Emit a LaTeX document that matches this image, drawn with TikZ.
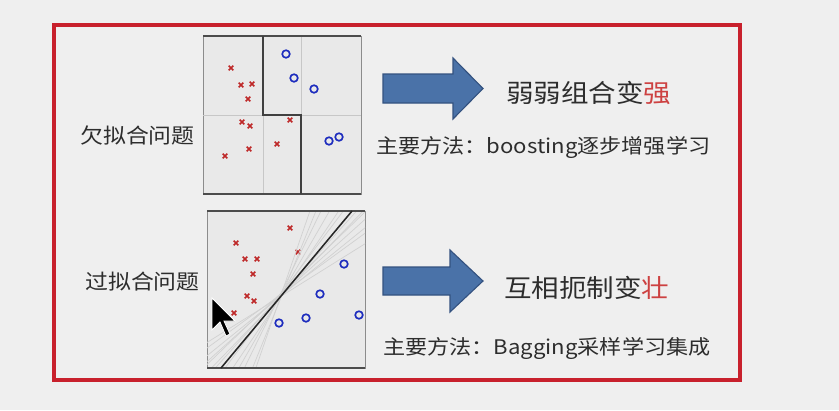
\documentclass[tikz,border=0pt]{standalone}
\usepackage{fontspec}
\newfontfamily\cjk[FakeStretch=1.1]{Noto Sans CJK SC}
\usetikzlibrary{arrows.meta,positioning}
\definecolor{framered}{RGB}{200,32,44}
\definecolor{bggray}{RGB}{239,239,239}
\definecolor{plotgray}{RGB}{233,233,233}
\definecolor{arrowblue}{RGB}{74,114,168}
\definecolor{arrowedge}{RGB}{52,82,128}
\definecolor{crossred}{RGB}{190,40,40}
\definecolor{ringblue}{RGB}{30,45,190}
\definecolor{txtred}{RGB}{205,65,65}
\definecolor{txtgray}{RGB}{45,45,45}

\begin{document}
\begin{tikzpicture}[x=0.025cm,y=-0.025cm,
  crossmark/.style={crossred,line width=1.2pt},
  ringmark/.style={ringblue,line width=1.2pt},
  blockarrow/.style={fill=arrowblue,draw=arrowedge,line width=0.8pt,line join=miter},
  bigtxt/.style={anchor=west,inner sep=0pt,text=txtgray,font=\cjk\fontsize{17.8}{20}\selectfont},
  methtxt/.style={anchor=west,inner sep=0pt,text=txtgray,font=\cjk\fontsize{14.3}{16}\selectfont},
  sidetxt/.style={anchor=west,inner sep=0pt,text=txtgray,font=\cjk\fontsize{14.8}{17}\selectfont}]
\fill[bggray] (0,0) rectangle (839,410);
\draw[framered,line width=2.2pt] (54,25) rectangle (740,380);

\draw[fill=plotgray,draw=black!45,line width=0.6pt] (203,36) rectangle (361,194);
\draw[black!22,line width=0.6pt] (263,36)--(263,194) (301,36)--(301,194) (203,115)--(361,115);
\draw[black!70,line width=0.8pt] (203,36)--(361,36) (203,194)--(361,194);
\draw[black!75,line width=1.4pt] (263,36)--(263,115)--(301,115)--(301,194);
\foreach \x/\y in {231/68,241/85,252/84,248/99,242/122,250/126,290/120,277/144,249/149,225/156}
  \draw[crossmark] ({\x-2.3},{\y-2.3})--({\x+2.3},{\y+2.3}) ({\x-2.3},{\y+2.3})--({\x+2.3},{\y-2.3});
\foreach \x/\y in {286/54,294/78,314/89,329/141,339/137}
  \draw[ringmark] (\x,\y) circle[radius=0.95mm];

\draw[fill=plotgray,draw=black!45,line width=0.6pt] (207,211) rectangle (365,368);
\foreach \x/\y in {290/228,236/243,245/259,257/259,253/274,247/296,254/301,298/252,234/313}
  \draw[crossmark] ({\x-2.3},{\y-2.3})--({\x+2.3},{\y+2.3}) ({\x-2.3},{\y+2.3})--({\x+2.3},{\y-2.3});
\begin{scope}
\clip (207,211) rectangle (365,368);
\foreach \a/\d in {32/2,36/-1,39/1,42/0,44/-2,46/1,48/0,53/-1,56/1,60/0,64/-1,68/1,71/0}
  \draw[black!18,line width=0.5pt] (281+\d,295) -- ++(-\a:250) (281+\d,295) -- ++(180-\a:250);
\end{scope}
\draw[black!70,line width=0.8pt] (207,211)--(365,211) (207,368)--(365,368);
\draw[black!85,line width=1.1pt] (221,368)--(352,211);
\foreach \x/\y in {344/264,320/294,306/318,279/323,359/315}
  \draw[ringmark] (\x,\y) circle[radius=0.95mm];
\filldraw[black,draw=white,line width=0.6pt] (212,298) -- ++(0,32) -- ++(8,-8) -- ++(6,14) -- ++(4,-2) -- ++(-6,-13) -- ++(11,0) -- cycle;

\node[sidetxt] (lbl_under) at (80,135) {欠拟合问题};
\node[sidetxt] (lbl_over) at (85,282) {过拟合问题};

\draw[blockarrow] (383,74)--(453,74)--(453,58)--(483,88.5)--(453,119)--(453,103)--(383,103)--cycle;
\draw[blockarrow] (383,267)--(450,267)--(450,250)--(483,281)--(450,312)--(450,295)--(383,295)--cycle;

\node[bigtxt] (res_boost) at (506,93) {弱弱组合变\textcolor{txtred}{强}};
\node[methtxt] (meth_boost) at (376,147) {主要方法：boosting逐步增强学习};
\node[bigtxt] (res_bag) at (504,288) {互相扼制变\textcolor{txtred}{壮}};
\node[methtxt] (meth_bag) at (383,348) {主要方法：Bagging采样学习集成};
\end{tikzpicture}
\end{document}
